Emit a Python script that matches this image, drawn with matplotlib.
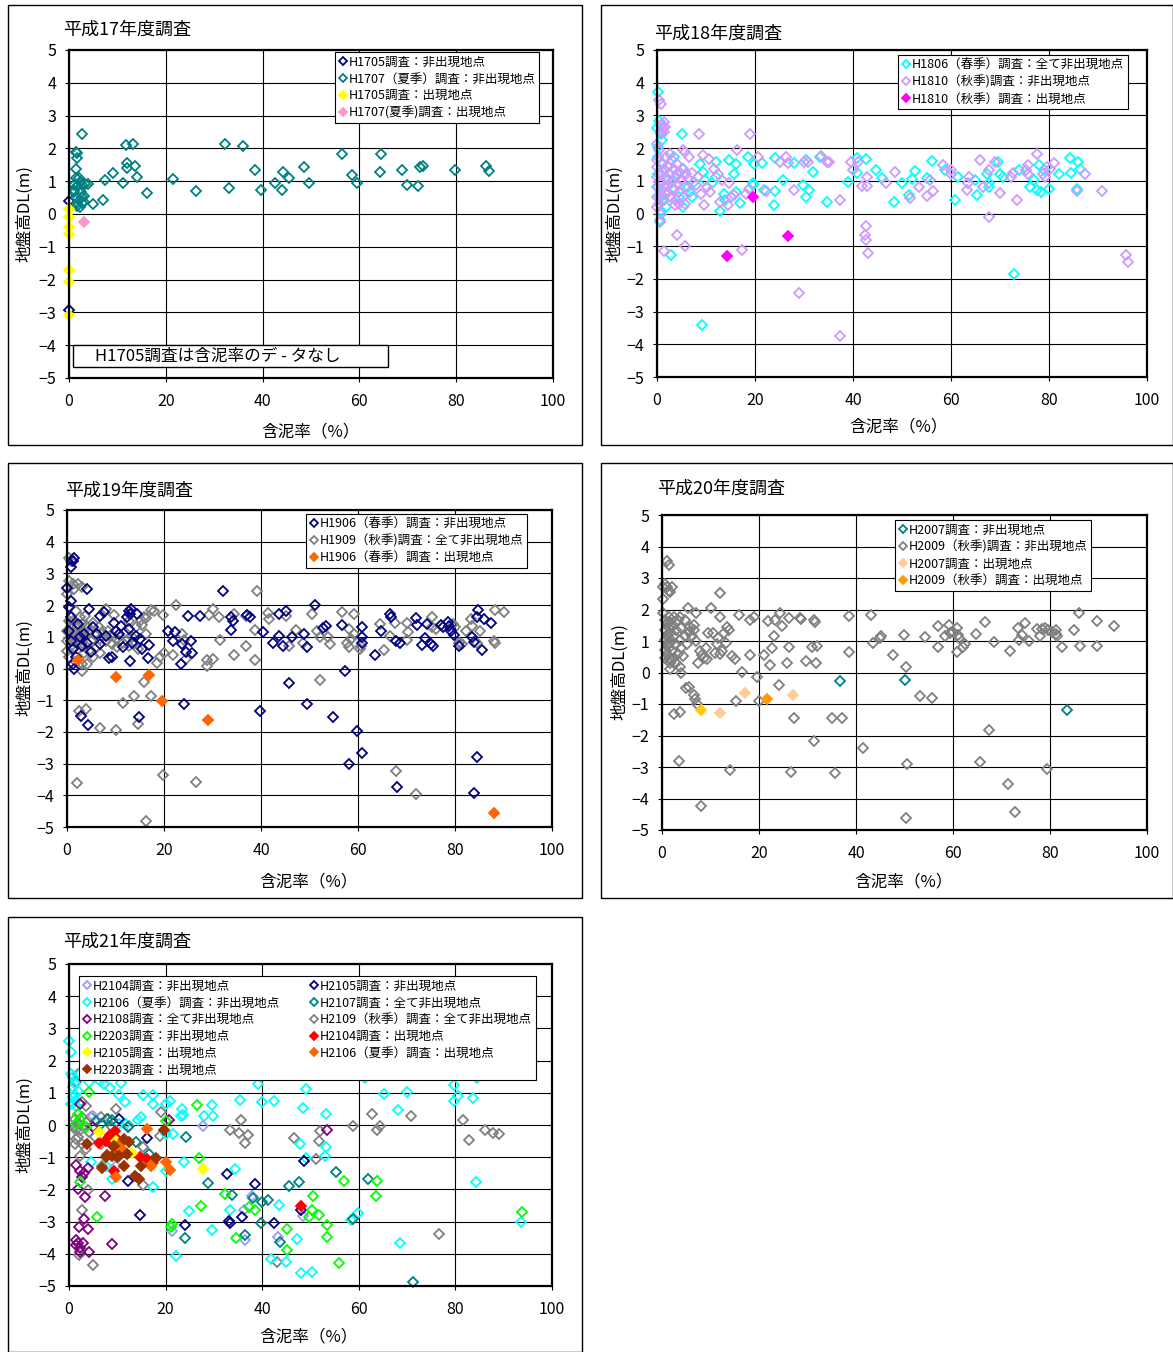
import numpy as np
import matplotlib
matplotlib.use("Agg")
import matplotlib.pyplot as plt
from matplotlib.patches import Rectangle

plt.rcParams['font.family'] = ['Noto Sans CJK JP', 'DejaVu Sans']

W, H = 1173, 1352

# ---------------- data: (含泥率 %, 地盤高 DL m) ----------------
# 平成17年度
h1705_non = [(0, 0.40), (0, -2.93)]
h1707_non = [(2.6, 2.44), (1.45, 1.90), (1.6, 1.85), (1.7, 1.70), (1.4, 1.36), (1.4, 1.09), (2.1, 1.09),
             (1.0, 0.89), (1.7, 0.84), (2.7, 0.89), (3.9, 0.90), (1.0, 0.73), (2.4, 0.68), (1.4, 0.51),
             (2.7, 0.51), (1.7, 0.33), (2.7, 0.33), (1.7, 0.23), (3.0, 0.56), (3.4, 0.92), (2.2, 0.97),
             (1.1, 0.66), (3.0, 0.36), (2.2, 0.20), (5.0, 0.31), (7.1, 0.43), (7.4, 1.04), (9.1, 1.26),
             (11.2, 0.94), (11.7, 2.09), (13.2, 2.13), (12.0, 1.57), (12.0, 1.39), (13.7, 1.45), (14.0, 1.12),
             (16.1, 0.63), (21.5, 1.07), (26.2, 0.69), (32.2, 2.12), (33.1, 0.79), (36.0, 2.06), (38.4, 1.35),
             (39.6, 0.73), (42.5, 0.94), (44.1, 0.73), (44.2, 1.28), (45.4, 1.10), (48.5, 1.43), (49.6, 0.94),
             (56.5, 1.84), (58.4, 1.19), (59.6, 0.94), (64.5, 1.84), (64.3, 1.28), (68.7, 1.35), (69.9, 0.87),
             (72.2, 0.86), (72.6, 1.43), (73.1, 1.47), (79.8, 1.35), (86.1, 1.46), (86.7, 1.31)]
h1705_app = [(0, 0.14), (0, -0.08), (0, -0.40), (0, -0.61), (0, -1.71), (0, -2.06), (0, -3.08)]
h1707_app = [(3.1, -0.23)]

# 平成18年度
h1806_non = [(0.2, 3.72), (0, 2.60), (0.4, 2.83), (0.6, 0.50), (0.6, -0.20), (5.1, 2.44), (2.9, -1.26),
             (9.2, -3.40), (72.8, -1.85), (5.3, 1.37), (8.7, 1.52), (9.3, 1.27), (12.1, 1.57), (14.7, 1.63),
             (16.2, 1.52), (15.8, 1.22), (18.5, 1.73), (19.8, 1.52), (21.5, 1.54), (19.6, 0.93), (19.6, 0.86),
             (21.9, 0.71), (24.1, 0.69), (23.9, 0.25), (24.1, 1.71), (25.8, 1.01), (27.9, 1.54), (29.8, 0.86),
             (30.5, 0.50), (31.1, 0.71), (30.5, 1.63), (31.9, 1.27), (33.2, 1.73), (34.7, 0.35), (38.9, 0.96),
             (40.9, 1.71), (42.6, 1.68), (40.8, 1.24), (44.7, 1.34), (46.0, 1.09), (48.4, 0.35), (50.1, 0.93),
             (51.5, 0.58), (52.0, 1.06), (52.6, 1.30), (55.2, 1.09), (56.1, 1.61), (58.8, 1.32), (60.9, 0.40),
             (61.4, 1.13), (64.8, 1.03), (65.3, 0.58), (67.4, 1.20), (67.7, 0.81), (67.8, 0.93), (69.5, 1.57),
             (70.1, 1.22), (70.7, 1.13), (73.9, 1.32), (76.1, 0.81), (78.0, 1.48), (78.4, 0.65), (79.0, 1.32),
             (80.1, 0.76), (82.1, 1.20), (84.2, 1.71), (84.4, 1.24), (85.9, 1.57), (86.3, 1.37), (85.8, 0.76),
             (76.9, 1.01), (77.6, 0.73), (1.5, 1.37), (2.3, 1.01), (3.4, 1.73), (4.1, 1.22), (6.4, 0.81),
             (7.2, 0.50), (7.5, 0.96), (0.8, 0.09), (1.1, 0.40), (1.9, 0.19), (2.3, 0.65), (4.5, 0.50),
             (5.3, 0.19), (9.8, 1.01), (11.3, 0.93), (12.8, 0.09), (13.6, 0.60), (13.9, 0.40), (17.0, 0.32),
             (16.2, 0.65), (12.1, 1.11), (0.8, 2.44), (1.1, 2.24), (0.2, 2.03), (0.15, 1.73), (0.15, 1.22),
             (0.15, 0.81)]
h1810_non = [(0.75, 3.36), (0.4, 3.47), (0.9, 2.70), (1.2, 2.60), (1.5, 2.50), (0.75, 2.50), (1.4, 2.80),
             (1.7, 2.65), (0, 1.63), (0, 2.14), (0.4, 1.93), (8.5, 2.44), (19.0, 2.44), (16.4, 1.95),
             (5.3, 1.95), (5.7, 1.88), (4.1, -0.67), (5.8, -1.00), (1.5, -1.16), (17.3, -1.13), (28.9, -2.44),
             (37.3, -3.74), (0.6, -0.27), (42.6, -0.37), (42.4, -0.67), (42.6, -0.81), (43.0, -1.22),
             (95.7, -1.26), (96.1, -1.49), (67.7, -0.11), (73.5, 0.40), (90.8, 0.69), (20.7, 1.73), (22.2, 0.69),
             (25.1, 1.57), (26.4, 1.73), (26.8, 1.54), (27.9, 0.73), (30.1, 1.57), (30.9, 1.57), (33.5, 1.75),
             (34.7, 1.57), (35.2, 1.57), (37.3, 0.42), (39.6, 1.57), (40.0, 1.32), (41.1, 1.57), (41.8, 0.83),
             (42.8, 0.83), (42.8, 1.13), (46.7, 0.93), (48.6, 1.27), (51.6, 0.48), (53.5, 0.81), (55.0, 0.55),
             (55.8, 1.01), (56.4, 0.69), (58.3, 1.49), (60.1, 1.32), (59.9, 1.22), (63.2, 0.73), (63.5, 0.93),
             (63.7, 1.13), (65.9, 1.65), (66.5, 0.81), (67.8, 1.32), (68.9, 1.57), (69.9, 0.62), (72.6, 1.24),
             (72.3, 1.11), (75.4, 1.32), (75.7, 1.48), (75.7, 1.22), (77.5, 1.83), (78.7, 1.22), (79.1, 1.11),
             (80.3, 1.37), (81.0, 1.54), (87.4, 1.20), (85.8, 0.69), (79.5, 1.42),
             (0, 1.42), (0, 1.11), (0, 0.80), (0, 0.50), (0, 0.20), (0.4, 0.96), (0.4, 0.30), (0.75, 1.22),
             (0.75, 0.70), (1.1, 1.52), (1.1, 0.96), (1.1, 0.55), (1.5, 1.32), (1.5, 0.80), (1.5, 0.40),
             (1.9, 1.73), (1.9, 1.11), (1.9, 0.60), (2.3, 1.42), (2.3, 0.86), (2.6, 1.83), (2.6, 1.22),
             (2.6, 0.50), (3.0, 1.63), (3.0, 0.96), (3.4, 1.37), (3.4, 0.76), (3.8, 1.11), (3.8, 0.40),
             (4.1, 1.52), (4.1, 0.91), (4.5, 1.27), (4.5, 0.65), (4.9, 1.01), (5.3, 1.37), (5.3, 0.50),
             (5.7, 0.81), (6.0, 1.22), (6.4, 1.06), (6.6, 1.73), (6.8, 0.65), (7.2, 1.24), (7.9, 0.86),
             (8.3, 1.11), (9.0, 0.60), (9.4, 1.78), (9.6, 0.25), (10.2, 0.81), (10.6, 1.68), (10.9, 0.65),
             (11.7, 1.37), (12.4, 1.22), (12.8, 0.35), (13.2, 1.01), (14.5, 0.25), (14.7, 0.93), (15.1, 0.50),
             (15.7, 0.58), (18.1, 0.60), (18.8, 0.76), (4.5, 0.30), (3.6, 0.25), (5.7, 0.28), (0.75, -0.01)]
h1810_app = [(19.6, 0.50), (26.8, -0.70), (14.2, -1.29)]

# 平成19年度
h1906_non = [(1.5, 3.50), (0.8, 3.21), (1.2, 3.40), (4.1, 2.52), (0.4, 1.93), (0.8, 2.14), (0, 2.55),
             (32.2, 2.45), (51.2, 2.00), (25.0, 1.66), (27.5, 1.66), (37.2, 1.68), (37.8, 1.61), (33.8, 1.61),
             (34.2, 1.50), (33.8, 1.21), (40.5, 1.16), (42.5, 0.79), (43.7, 1.03), (44.5, 0.72), (46.4, 1.00),
             (43.7, 1.72), (45.2, 1.80), (48.8, 1.10), (49.4, 0.67), (52.8, 1.27), (53.5, 1.33), (56.8, 1.37),
             (60.8, 1.30), (60.8, 1.00), (60.8, 0.79), (63.6, 0.42), (64.8, 1.17), (66.5, 1.72), (66.9, 1.63),
             (67.8, 0.88), (68.6, 0.82), (71.9, 1.58), (72.2, 1.37), (73.2, 0.75), (73.8, 0.95), (74.2, 1.40),
             (75.0, 0.77), (75.5, 0.72), (77.1, 1.38), (77.5, 1.30), (78.5, 1.47), (78.7, 1.35), (79.8, 1.05),
             (80.8, 0.72), (83.5, 0.98), (84.0, 0.84), (84.8, 1.85), (84.6, 1.61), (86.0, 1.56), (87.5, 1.45),
             (85.5, 0.58), (79.2, 1.17), (57.3, -0.09), (45.8, -0.47), (49.4, -1.12), (39.8, -1.35),
             (54.8, -1.54), (59.8, -1.98), (60.8, -2.66), (58.2, -3.01), (84.6, -2.78), (68.1, -3.74),
             (84.0, -3.92), (24.1, -1.12), (14.8, -1.52), (2.9, -1.50), (4.4, -1.77), (6.8, 1.66), (7.7, 1.77),
             (12.7, 1.82), (13.1, 1.89), (12.9, 1.72), (14.5, 1.72), (4.6, 1.89), (9.6, 1.42), (10.8, 1.10),
             (12.7, 1.24), (14.2, 1.03), (15.4, 0.63), (16.8, 0.32), (17.0, 0.74), (20.8, 1.19), (22.3, 1.14),
             (21.9, 0.88), (23.7, 0.77), (24.5, 0.51), (25.6, 0.88), (25.8, 0.48), (23.5, 0.14), (12.9, 0.25),
             (8.7, 0.32), (9.2, 0.35), (6.9, 0.77), (11.5, 0.67), (1.5, -0.02), (1.2, 0.14), (3.1, 0.72),
             (5.4, 1.30), (6.2, 1.09), (3.5, 1.09), (2.3, 1.40), (0.8, 1.61), (0.4, 1.19), (0.8, 0.88),
             (1.2, 0.61), (1.9, 0.35), (2.7, 0.98), (4.2, 0.82), (5.0, 0.51), (8.1, 1.03), (10.0, 1.19),
             (11.2, 1.35), (12.3, 1.61), (13.5, 0.82), (15.0, 0.93)]
h1909_non = [(0.4, 3.50), (0.8, 3.40), (0.4, 2.77), (1.2, 2.66), (2.3, 2.68), (3.1, 2.58), (0, 2.35),
             (1.5, 2.50), (39.2, 2.45), (22.5, 2.00), (30.0, 1.87), (29.2, 1.69), (31.3, 1.61), (19.8, 1.68),
             (17.3, 1.85), (17.9, 1.82), (34.5, 1.72), (36.9, 1.66), (41.4, 1.74), (41.7, 1.56), (45.2, 1.66),
             (50.5, 1.72), (56.7, 1.77), (59.1, 1.72), (58.1, 1.26), (58.5, 0.93), (57.8, 0.79), (58.1, 0.67),
             (60.4, 0.61), (60.6, 0.72), (59.1, 1.09), (64.6, 1.40), (65.4, 0.59), (66.5, 1.03), (67.7, 1.42),
             (70.2, 1.42), (70.4, 1.14), (70.2, 0.90), (75.2, 1.61), (75.2, 1.30), (76.0, 1.26), (79.5, 1.40),
             (80.0, 1.30), (82.3, 1.19), (83.5, 1.35), (85.2, 1.19), (83.2, 1.56), (88.3, 1.84), (90.2, 1.77),
             (88.1, 0.88), (88.3, 0.79), (84.6, 0.79), (81.5, 0.77), (80.8, 0.82), (51.5, 1.19), (52.2, 0.98),
             (54.2, 0.77), (53.8, 0.98), (48.7, 0.82), (47.3, 1.21), (45.8, 0.72), (36.9, 0.72), (34.5, 0.44),
             (31.5, 0.90), (38.8, 0.27), (38.7, 1.21), (30.2, 0.30), (28.8, 0.27), (28.8, 0.07), (52.2, -0.36),
             (67.8, -3.22), (71.9, -3.97), (19.8, -3.37), (26.5, -3.58), (2.1, -3.61), (16.2, -4.81),
             (10.0, -1.94), (6.9, -1.87), (2.5, -1.33), (4.0, -1.27), (14.6, -1.75), (15.8, -0.44),
             (17.3, -0.86), (11.5, -1.09), (13.8, -0.88), (3.1, -0.07), (4.2, 0.14),
             (0, 1.19), (0, 0.88), (0, 0.56), (0.4, 1.50), (0.4, 0.35), (0.8, 1.30), (0.8, 1.03), (0.8, 0.72),
             (1.2, 1.50), (1.2, 0.88), (1.5, 1.19), (1.5, 0.67), (1.9, 1.82), (1.9, 0.98), (2.3, 1.30),
             (2.3, 0.82), (2.7, 1.61), (2.7, 1.09), (3.1, 1.40), (3.1, 0.82), (3.5, 1.19), (3.8, 1.66),
             (3.8, 0.98), (4.2, 1.35), (4.6, 1.14), (5.0, 0.88), (5.4, 1.45), (5.8, 1.09), (6.2, 0.67),
             (6.5, 1.30), (6.9, 0.93), (6.9, 0.48), (7.3, 1.14), (8.1, 1.87), (8.1, 0.88), (8.5, 1.19),
             (8.8, 1.03), (9.2, 0.77), (9.6, 1.69), (10.0, 0.93), (10.4, 0.67), (10.8, 0.88), (11.5, 0.79),
             (11.9, 1.14), (12.7, 0.72), (12.7, 1.50), (13.5, 0.98), (13.8, 0.77), (14.2, 1.30), (14.6, 0.61),
             (15.2, 1.53), (15.8, 1.63), (16.2, 1.09), (15.4, 1.38), (16.2, 1.59), (18.5, 0.17), (20.0, 0.48),
             (21.9, 0.44), (23.7, 1.09), (24.1, 0.90), (24.6, 0.30), (19.2, 0.35), (3.1, 0.14), (1.9, 0.19),
             (3.5, 0.48), (4.6, 0.56), (5.4, 0.35)]
h1906_app = [(2.2, 0.27), (10.2, -0.26), (16.9, -0.19), (19.5, -1.03), (29.1, -1.64), (88.1, -4.55)]

# 平成20年度
h2007_non = [(36.6, -0.28), (50.0, -0.24), (83.5, -1.18)]
h2009_non = [(1.0, 3.54), (1.4, 3.42), (0.2, 2.71), (0.6, 2.81), (1.0, 2.71), (1.4, 2.60), (2.0, 2.73),
             (0.2, 2.34), (1.7, 2.55), (12.0, 2.52), (5.3, 2.06), (7.1, 1.88), (10.1, 2.05), (11.9, 1.75),
             (13.5, 1.44), (13.9, 1.35), (15.9, 1.84), (18.1, 1.67), (18.9, 1.77), (21.9, 1.64), (23.2, 1.67),
             (24.3, 1.88), (26.1, 1.72), (24.8, 1.48), (28.5, 1.72), (28.7, 1.69), (31.4, 1.67), (31.6, 1.61),
             (38.6, 1.79), (43.0, 1.82), (45.1, 1.15), (44.9, 1.11), (49.9, 1.20), (43.6, 0.94), (38.5, 0.65),
             (47.6, 0.54), (50.3, 0.19), (54.2, 1.13), (57.0, 0.80), (57.0, 1.49), (58.4, 1.15), (59.2, 1.51),
             (59.3, 1.25), (59.9, 1.30), (60.8, 1.41), (61.1, 1.20), (61.3, 1.09), (60.9, 0.65), (62.1, 0.80),
             (62.4, 0.91), (64.7, 1.23), (66.5, 1.61), (68.4, 0.97), (71.7, 0.68), (73.5, 1.41), (73.6, 1.04),
             (74.2, 1.20), (74.8, 1.58), (75.7, 0.99), (77.3, 1.38), (78.0, 1.15), (78.4, 1.38), (78.9, 1.41),
             (79.5, 1.35), (80.5, 1.30), (81.2, 1.23), (81.4, 1.15), (81.2, 1.35), (82.5, 0.80), (85.0, 1.35),
             (85.9, 1.88), (86.2, 0.85), (89.6, 1.64), (89.7, 0.85), (93.2, 1.49), (9.2, 0.42), (10.9, 0.63),
             (12.4, 0.68), (14.5, 0.52), (15.0, 0.42), (16.4, 0.02), (18.2, 0.55), (19.5, -0.14), (21.0, 0.54),
             (22.3, 0.24), (22.7, 0.78), (23.0, 1.15), (26.1, 0.81), (25.7, 0.31), (29.7, 0.36), (31.8, 0.31),
             (30.9, 0.80), (32.0, 0.85), (4.0, -0.02), (24.2, -0.40), (20.0, -0.89), (15.2, -0.92),
             (5.0, -0.50), (5.6, -0.47), (6.5, -0.73), (6.8, -0.83), (7.2, -0.99), (2.4, -1.33), (3.8, -1.25),
             (27.2, -1.43), (35.0, -1.44), (37.1, -1.44), (31.3, -2.17), (41.4, -2.40), (53.1, -0.76),
             (55.6, -0.81), (67.5, -1.84), (65.5, -2.83), (79.3, -3.07), (71.3, -3.54), (72.7, -4.43),
             (50.6, -2.90), (50.3, -4.61), (35.6, -3.20), (26.7, -3.16), (14.1, -3.11), (3.5, -2.81),
             (8.0, -4.25), (0.2, 1.88), (0.6, 1.67), (0.6, 1.35), (0.6, 1.04), (0.6, 0.73), (0.6, 0.47),
             (1.0, 1.56), (1.0, 1.20), (1.0, 0.89), (1.0, 0.58), (1.4, 1.77), (1.4, 1.41), (1.4, 1.09),
             (1.4, 0.78), (1.4, 0.42), (1.7, 1.61), (1.7, 1.25), (1.7, 0.94), (1.7, 0.31), (2.1, 1.46),
             (2.1, 0.68), (2.5, 1.77), (2.5, 1.15), (2.5, 0.47), (2.9, 1.35), (2.9, 0.89), (3.3, 1.67),
             (3.3, 0.58), (3.7, 1.77), (3.7, 1.04), (4.0, 1.41), (4.0, 0.78), (4.4, 0.52), (4.8, 1.67),
             (4.8, 1.15), (5.2, 0.89), (5.6, 1.28), (5.8, 1.46), (6.1, 1.15), (6.5, 1.51), (6.7, 1.35),
             (7.1, 0.99), (7.5, 0.31), (7.8, 0.68), (8.2, 0.54), (8.6, 0.47), (9.0, 0.78), (9.4, 1.25),
             (10.5, 1.25), (11.3, 0.89), (11.6, 1.09), (12.0, 0.58), (12.8, 1.25), (13.2, 0.94), (2.9, 0.31),
             (3.7, 0.16), (1.7, 0.10), (1.9, 0.42)]
h2007_app = [(17.1, -0.66), (11.9, -1.30), (27.1, -0.73)]
h2009_app = [(21.7, -0.84)]
h2009_app_gold = [(8.0, -1.18)]

# 平成21年度
h2104_non = [(27.8, -0.02), (21.4, -3.30), (36.4, -3.56), (43.2, -3.49), (48.4, -2.83), (37.8, -2.20),
             (9.7, -1.27), (5.0, 0.29), (36.3, -2.64)]
h2105_non = [(10.3, 0.19), (16.1, -0.40), (12.2, -1.74), (14.7, -2.78), (24.1, -3.12), (32.8, -1.52),
             (38.6, -1.83), (33.2, -2.98), (33.4, -3.04), (35.9, -2.85), (42.5, -3.05), (48.1, -2.65),
             (48.6, -1.12)]
h2106_non = [(0, 2.62), (0.4, 2.26), (0.5, 1.59), (0.8, 1.48), (1.2, 1.28), (1.2, 0.92), (1.3, 0.76),
             (1.5, 0.60), (0.4, 0.66), (0.8, 0.87), (0.8, 1.18), (1.9, 1.07), (2.3, 1.59), (4.2, 1.33),
             (6.4, 1.38), (7.3, 1.28), (8.5, 1.14), (10.8, 1.30), (10.4, 0.92), (11.6, 0.71), (15.4, 0.92),
             (17.4, 0.92), (17.4, 0.66), (20.1, 0.66), (21.0, 0.76), (23.4, 0.50), (23.5, 0.32), (23.2, 0.27),
             (28.0, 0.27), (29.6, 0.62), (29.9, 0.29), (35.4, 0.78), (39.2, 1.28), (40.0, 0.71), (42.5, 0.76),
             (48.5, 0.52), (49.0, 1.12), (53.3, 0.34), (61.2, 1.45), (65.3, 0.97), (68.2, 0.48), (69.9, 1.04),
             (79.8, 1.23), (80.5, 0.90), (79.8, 0.76), (83.6, 0.84), (84.4, 1.45), (47.9, -0.59), (53.0, -0.97),
             (53.3, -0.68), (49.0, -1.04), (84.2, -1.76), (93.6, -3.00), (17.4, -1.93), (34.4, -1.36),
             (23.9, -1.16), (20.1, -1.42), (20.1, -0.27), (21.5, -0.28), (14.9, 0.24), (14.3, 0.14),
             (4.6, -1.16), (33.4, -2.64), (43.5, -2.47), (24.9, -2.66), (29.6, -3.26), (22.2, -4.06),
             (41.9, -4.17), (45.0, -4.25), (48.1, -4.61), (50.3, -4.56), (47.2, -3.53), (58.3, -2.96),
             (59.8, -2.73), (68.5, -3.67), (8.9, -1.68), (7.7, -1.27), (11.9, 0.03), (10.4, 0.03)]
h2107_non = [(6.6, 0.03), (8.9, 0.14), (24.3, -0.38), (12.2, -0.05), (13.9, -0.53), (16.6, -0.89),
             (28.8, -1.80), (33.7, -2.17), (36.5, -3.42), (24.0, -3.52), (43.6, -3.63), (41.3, -2.33),
             (40.0, -2.40), (38.1, -2.26), (39.8, -3.04), (45.5, -1.90), (47.6, -1.77), (55.2, -1.46),
             (62.0, -1.67), (58.7, -2.91), (71.2, -4.88), (5.6, 0.11), (7.9, 0.19)]
h2108_non = [(5.0, -0.07), (2.3, 0.66), (1.5, -1.25), (2.3, -1.42), (3.1, -1.50), (3.9, -1.34), (2.7, -1.63),
             (1.9, -1.99), (3.3, -2.25), (7.5, -2.20), (3.2, -2.92), (2.1, -3.17), (4.0, -3.22), (1.5, -3.58),
             (1.9, -3.68), (2.9, -3.65), (2.3, -3.81), (4.2, -3.94), (8.9, -3.71), (20.8, 0.16), (53.4, -0.16),
             (1.5, -3.74), (2.3, -3.94)]
h2109_non = [(1.9, 1.59), (1.5, 1.33), (3.5, 0.60), (2.7, 0.71), (1.2, 0.19), (1.5, -0.17), (1.9, -0.38),
             (2.7, -0.58), (3.5, -0.74), (1.2, -0.58), (2.3, -0.95), (4.6, 0.24), (6.6, 0.24), (9.7, 0.50),
             (12.4, -0.02), (15.4, -0.69), (15.4, -1.85), (3.9, -2.03), (2.7, -2.65), (5.0, -4.34),
             (2.1, -4.05), (19.1, 0.39), (18.9, -0.34), (33.4, -0.15), (35.1, -0.24), (35.7, 0.16),
             (36.4, -0.55), (37.1, -0.30), (46.6, -0.40), (51.2, -1.07), (51.7, -0.50), (51.9, -0.20),
             (58.7, -0.02), (62.8, 0.33), (63.7, -0.16), (64.3, -0.04), (70.8, 0.28), (81.6, 0.16),
             (82.9, -0.46), (86.1, -0.15), (87.8, -0.24), (89.0, -0.28), (76.6, -3.40), (43.1, -4.25),
             (6.9, -1.27), (1.2, -0.07), (1.9, 0.03), (2.3, -0.17), (3.1, -0.02), (2.7, 0.24), (3.6, 0.09),
             (1.5, -0.43), (4.2, -0.22), (5.4, -0.38), (6.6, -0.58), (8.9, -0.07), (8.1, 0.19)]
h2203_non = [(4.2, 1.04), (1.9, 0.35), (2.3, 0.19), (1.5, 0.03), (3.5, -0.07), (2.3, -1.77), (5.9, -2.86),
             (26.5, 0.62), (20.1, 0.11), (26.9, -1.01), (27.3, -2.53), (21.4, -3.09), (21.1, -3.17),
             (32.3, -2.13), (34.6, -3.50), (37.3, -2.55), (38.6, -2.63), (45.2, -3.22), (45.2, -3.87),
             (50.6, -2.22), (50.3, -2.63), (49.6, -2.86), (51.7, -2.78), (53.4, -3.12), (53.4, -3.48),
             (55.8, -4.29), (56.9, -1.74), (63.7, -1.75), (63.5, -2.22), (93.7, -2.70)]
h2104_app = [(48.1, -2.52), (9.5, -0.20), (8.1, -0.40), (8.9, -0.61), (7.7, -0.51), (6.2, -0.56), (9.3, -1.43),
             (14.7, -0.99), (16.2, -1.07), (10.0, -0.45), (8.5, -0.30), (10.4, -0.76)]
h2105_app = [(6.2, -0.22), (13.1, -0.87), (27.8, -1.38), (9.7, -0.51), (10.4, -0.66)]
h2106_app = [(16.1, -0.12), (9.7, -1.63), (17.0, -1.27), (21.0, -1.39), (20.1, -1.14), (10.3, -0.61),
             (11.3, -0.82), (17.4, -1.17)]
h2203_app = [(19.7, -0.15), (3.7, -0.58), (6.9, -1.35), (7.7, -1.00), (7.9, -0.93), (9.3, -0.64), (10.0, -1.00),
             (11.3, -1.27), (11.3, -0.45), (12.5, -0.53), (12.0, -0.90), (13.7, -1.58), (14.4, -1.68),
             (14.9, -1.27), (18.1, -1.04), (10.3, -0.97), (8.9, -0.95)]

NAVY, TEAL, CYAN, LAV, GRAY = '#000080', '#008080', '#00FFFF', '#CC99FF', '#808080'


def fig_rect(x0, y0, x1, y1):
    return [x0 / W, 1 - y1 / H, (x1 - x0) / W, (y1 - y0) / H]


def scatter(ax, pts, color, filled=False, label=None):
    x, y = zip(*pts)
    return ax.plot(x, y, 'D', ms=4.6 if not filled else 5.0, mew=1.3,
                   mec=color, mfc=color if filled else 'none', ls='none',
                   clip_on=False, label=label)[0]


def panel(frame, axbox, title, tpos, ylpos, xlpos):
    fx0, fy0, fx1, fy1 = frame
    fig.patches.append(Rectangle((fx0 / W, 1 - fy1 / H), (fx1 - fx0) / W, (fy1 - fy0) / H,
                                 transform=fig.transFigure, fill=False, ec='black', lw=1.0))
    ax = fig.add_axes(fig_rect(*axbox))
    ax.set_xlim(0, 100)
    ax.set_ylim(-5, 5)
    ax.set_xticks(np.arange(0, 101, 20))
    ax.set_yticks(np.arange(-5, 6, 1))
    ax.grid(True, color='black', lw=0.8)
    ax.set_axisbelow(True)
    ax.tick_params(length=3, labelsize=11.5, pad=6)
    ax.tick_params(axis='x', pad=8)
    for s in ax.spines.values():
        s.set_linewidth(1.6)
    fig.text(tpos[0] / W, 1 - tpos[1] / H, title, fontsize=13, ha='left', va='center')
    fig.text(ylpos[0] / W, 1 - ylpos[1] / H, '地盤高DL(m)', fontsize=12, rotation=90,
             ha='center', va='center')
    fig.text(xlpos[0] / W, 1 - xlpos[1] / H, '含泥率（%）', fontsize=12, ha='center', va='center')
    return ax


def legend(ax, handles, pos, ncol=1):
    lg = ax.legend(handles=handles, loc='upper left', bbox_to_anchor=(pos[0] / W, 1 - pos[1] / H),
                   bbox_transform=fig.transFigure, ncol=ncol, fontsize=9, frameon=True,
                   fancybox=False, framealpha=1, edgecolor='black', handlelength=0.6,
                   handletextpad=0.2, borderpad=0.3, labelspacing=0.3, columnspacing=2.4,
                   borderaxespad=0, markerscale=0.85)
    lg.get_frame().set_linewidth(0.8)
    lg.set_zorder(10)
    return lg


fig = plt.figure(figsize=(W / 100, H / 100), dpi=100)

# 平成17年度
ax = panel((8, 5, 582, 445), (69, 50, 553, 378), '平成17年度調査', (63, 30), (25, 214), (311, 432))
a = scatter(ax, h1705_non, NAVY, label='H1705調査：非出現地点')
b = scatter(ax, h1707_non, TEAL, label='H1707（夏季）調査：非出現地点')
c = scatter(ax, h1705_app, '#FFFF00', True, label='H1705調査：出現地点')
d = scatter(ax, h1707_app, '#FF99CC', True, label='H1707(夏季)調査：出現地点')
legend(ax, [a, b, c, d], (335, 52))
fig.patches.append(Rectangle((73 / W, 1 - 367 / H), 315 / W, 22 / H, transform=fig.transFigure,
                             fill=True, fc='white', ec='black', lw=1.0, zorder=5))
fig.text(95 / W, 1 - 356 / H, 'H1705調査は含泥率のデ - タなし', fontsize=12, ha='left', va='center',
         zorder=6)

# 平成18年度
ax = panel((601, 5, 1173, 445), (657, 50, 1147, 377), '平成18年度調査', (654, 34), (615, 214), (899, 427))
a = scatter(ax, h1806_non, CYAN, label='H1806（春季）調査：全て非出現地点')
b = scatter(ax, h1810_non, LAV, label='H1810（秋季)調査：非出現地点')
c = scatter(ax, h1810_app, '#FF00FF', True, label='H1810（秋季）調査：出現地点')
legend(ax, [a, b, c], (898, 55))

# 平成19年度
ax = panel((8, 463, 582, 898), (67, 510, 552, 827), '平成19年度調査', (65, 491), (25, 668), (309, 882))
b = scatter(ax, h1909_non, GRAY, label='H1909（秋季)調査：全て非出現地点')
a = scatter(ax, h1906_non, NAVY, label='H1906（春季）調査：非出現地点')
c = scatter(ax, h1906_app, '#FF6600', True, label='H1906（春季）調査：出現地点')
legend(ax, [a, b, c], (306, 514))

# 平成20年度
ax = panel((601, 463, 1173, 898), (662, 515, 1147, 830), '平成20年度調査', (657, 489), (620, 672), (904, 882))
b = scatter(ax, h2009_non, GRAY, label='H2009（秋季)調査：非出現地点')
a = scatter(ax, h2007_non, TEAL, label='H2007調査：非出現地点')
c = scatter(ax, h2007_app, '#FFCC99', True, label='H2007調査：出現地点')
d = scatter(ax, h2009_app, '#FF9900', True, label='H2009（秋季）調査：出現地点')
scatter(ax, h2009_app_gold, '#FFCC00', True)
legend(ax, [a, b, c, d], (895, 520))

# 平成21年度
ax = panel((8, 917, 582, 1352), (69, 964, 552, 1286), '平成21年度調査', (63, 942), (25, 1125), (309, 1337))
s_2109 = scatter(ax, h2109_non, GRAY, label='H2109（秋季）調査：全て非出現地点')
s_2106 = scatter(ax, h2106_non, CYAN, label='H2106（夏季）調査：非出現地点')
s_2104 = scatter(ax, h2104_non, '#9999FF', label='H2104調査：非出現地点')
s_2105 = scatter(ax, h2105_non, NAVY, label='H2105調査：非出現地点')
s_2107 = scatter(ax, h2107_non, TEAL, label='H2107調査：全て非出現地点')
s_2108 = scatter(ax, h2108_non, '#800080', label='H2108調査：全て非出現地点')
s_2203 = scatter(ax, h2203_non, '#00FF00', label='H2203調査：非出現地点')
a_2104 = scatter(ax, h2104_app, '#FF0000', True, label='H2104調査：出現地点')
a_2105 = scatter(ax, h2105_app, '#FFFF00', True, label='H2105調査：出現地点')
a_2106 = scatter(ax, h2106_app, '#FF6600', True, label='H2106（夏季）調査：出現地点')
a_2203 = scatter(ax, h2203_app, '#993300', True, label='H2203調査：出現地点')
legend(ax, [s_2104, s_2106, s_2108, s_2203, a_2105, a_2203,
            s_2105, s_2107, s_2109, a_2104, a_2106], (79, 976), ncol=2)

fig.savefig('out.png', dpi=100)
